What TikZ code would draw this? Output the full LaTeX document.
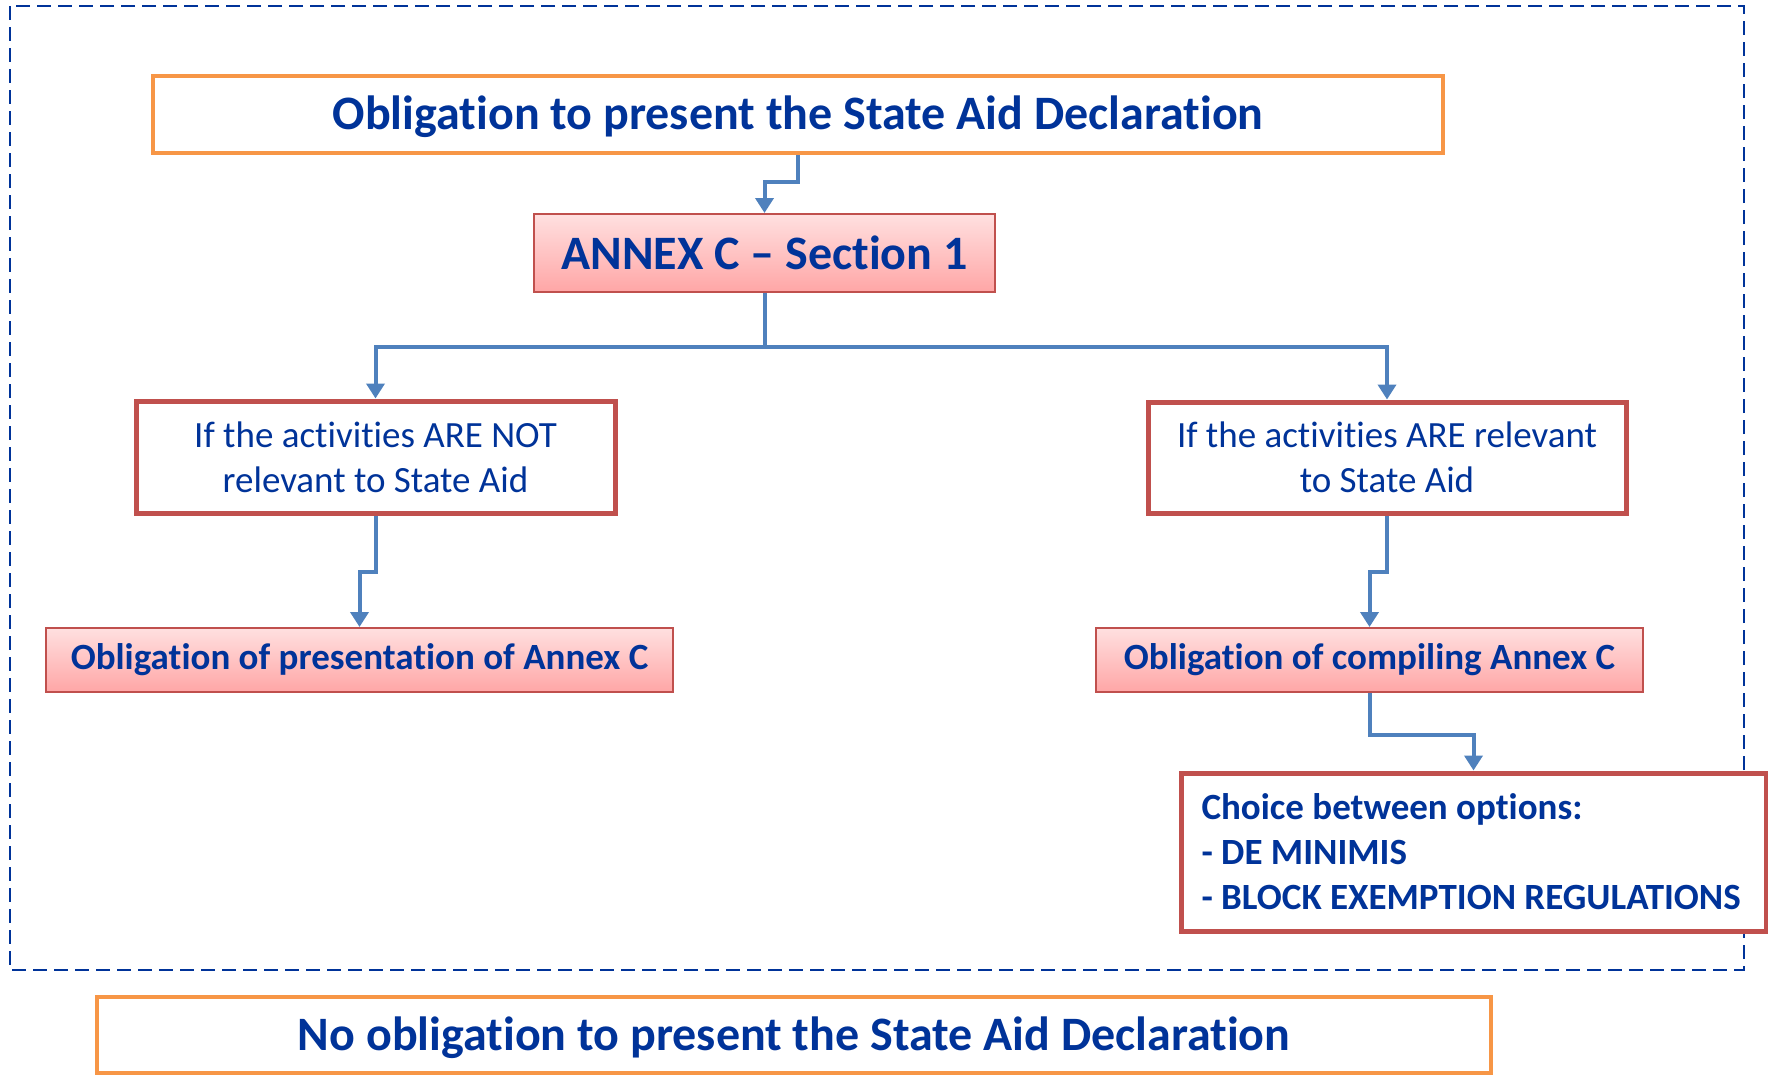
\documentclass[tikz,border=0pt]{standalone}
\usepackage{fontspec}
\setmainfont{Carlito}
\usetikzlibrary{arrows.meta}
\newcommand{\tI}{t\kern0pt i}
\definecolor{txtblue}{RGB}{0,51,153}
\definecolor{orangeb}{RGB}{247,150,70}
\definecolor{redb}{RGB}{192,80,77}
\definecolor{arrblue}{RGB}{79,129,189}
\definecolor{pinktop}{RGB}{255,224,224}
\definecolor{pinkbot}{RGB}{255,166,166}
\tikzset{
  bigtxt/.style={font=\fontsize{48}{56}\selectfont\bfseries, text=txtblue},
  midtxt/.style={font=\fontsize{37}{45}\selectfont, text=txtblue},
  boldtxt/.style={font=\fontsize{37}{45}\selectfont\bfseries, text=txtblue},
  orangebox/.style={draw=orangeb, line width=4.5pt, fill=white, inner sep=0pt, bigtxt, text depth=3pt},
  pinkbox/.style={draw=redb, line width=2pt, top color=pinktop, bottom color=pinkbot, inner sep=0pt},
  redbox/.style={draw=redb, line width=5pt, fill=white, inner sep=0pt},
  arr/.style={draw=arrblue, line width=4pt, -{Triangle[width=18pt,length=15pt]}, arrblue},
  frame/.style={draw=txtblue, line width=2pt, dash pattern=on 14pt off 7pt}
}
\begin{document}
\begin{tikzpicture}[x=1pt,y=-1pt]
\useasboundingbox (0,0) rectangle (1768,1076);
\draw[frame] (10,6) rectangle (1744,970);

\node[orangebox, minimum width=1290pt, minimum height=77pt] (top) at (798,114.5) {Obliga\tI on to present the State Aid Declara\tI on};
\node[pinkbox, bigtxt, minimum width=461pt, minimum height=78pt] (annex) at (764.5,253) {ANNEX C -- Sec\tI on 1\hspace{14pt}};
\node[redbox, midtxt, minimum width=479pt, minimum height=112pt, align=center] (notrel) at (375.5,457) {If the ac\tI vi\tI es ARE NOT\\relevant to State Aid};
\node[redbox, midtxt, minimum width=478pt, minimum height=111pt, align=center] (rel) at (1387,457.5) {If the ac\tI vi\tI es ARE relevant\\to State Aid};
\node[pinkbox, boldtxt, minimum width=627pt, minimum height=64pt] (pres) at (359.5,660) {Obliga\tI on of presenta\tI on of Annex C\hspace{6pt}};
\node[pinkbox, boldtxt, minimum width=547pt, minimum height=64pt] (comp) at (1369.5,660) {Obliga\tI on of compiling Annex C\hspace{12pt}};
\node[redbox, boldtxt, minimum width=585pt, minimum height=158pt, align=flush left, text width=544pt] (choice) at (1473.5,852) {Choice between op\tI ons:\\- DE MINIMIS\\- BLOCK EXEMPTION REGULATIONS};
\node[orangebox, minimum width=1394pt, minimum height=76pt] (bottom) at (794,1035) {No obliga\tI on to present the State Aid Declara\tI on};

\draw[arr] (top.south) -- ++(0,27) -| (annex.north);
\draw[arr] (annex.south) -- ++(0,54) -| (notrel.north);
\draw[arr] (annex.south) -- ++(0,54) -| (rel.north);
\draw[arr] (notrel.south) -- ++(0,56) -| (pres.north);
\draw[arr] (rel.south) -- ++(0,56) -| (comp.north);
\draw[arr] (comp.south) -- ++(0,42) -| (choice.north);
\end{tikzpicture}
\end{document}
